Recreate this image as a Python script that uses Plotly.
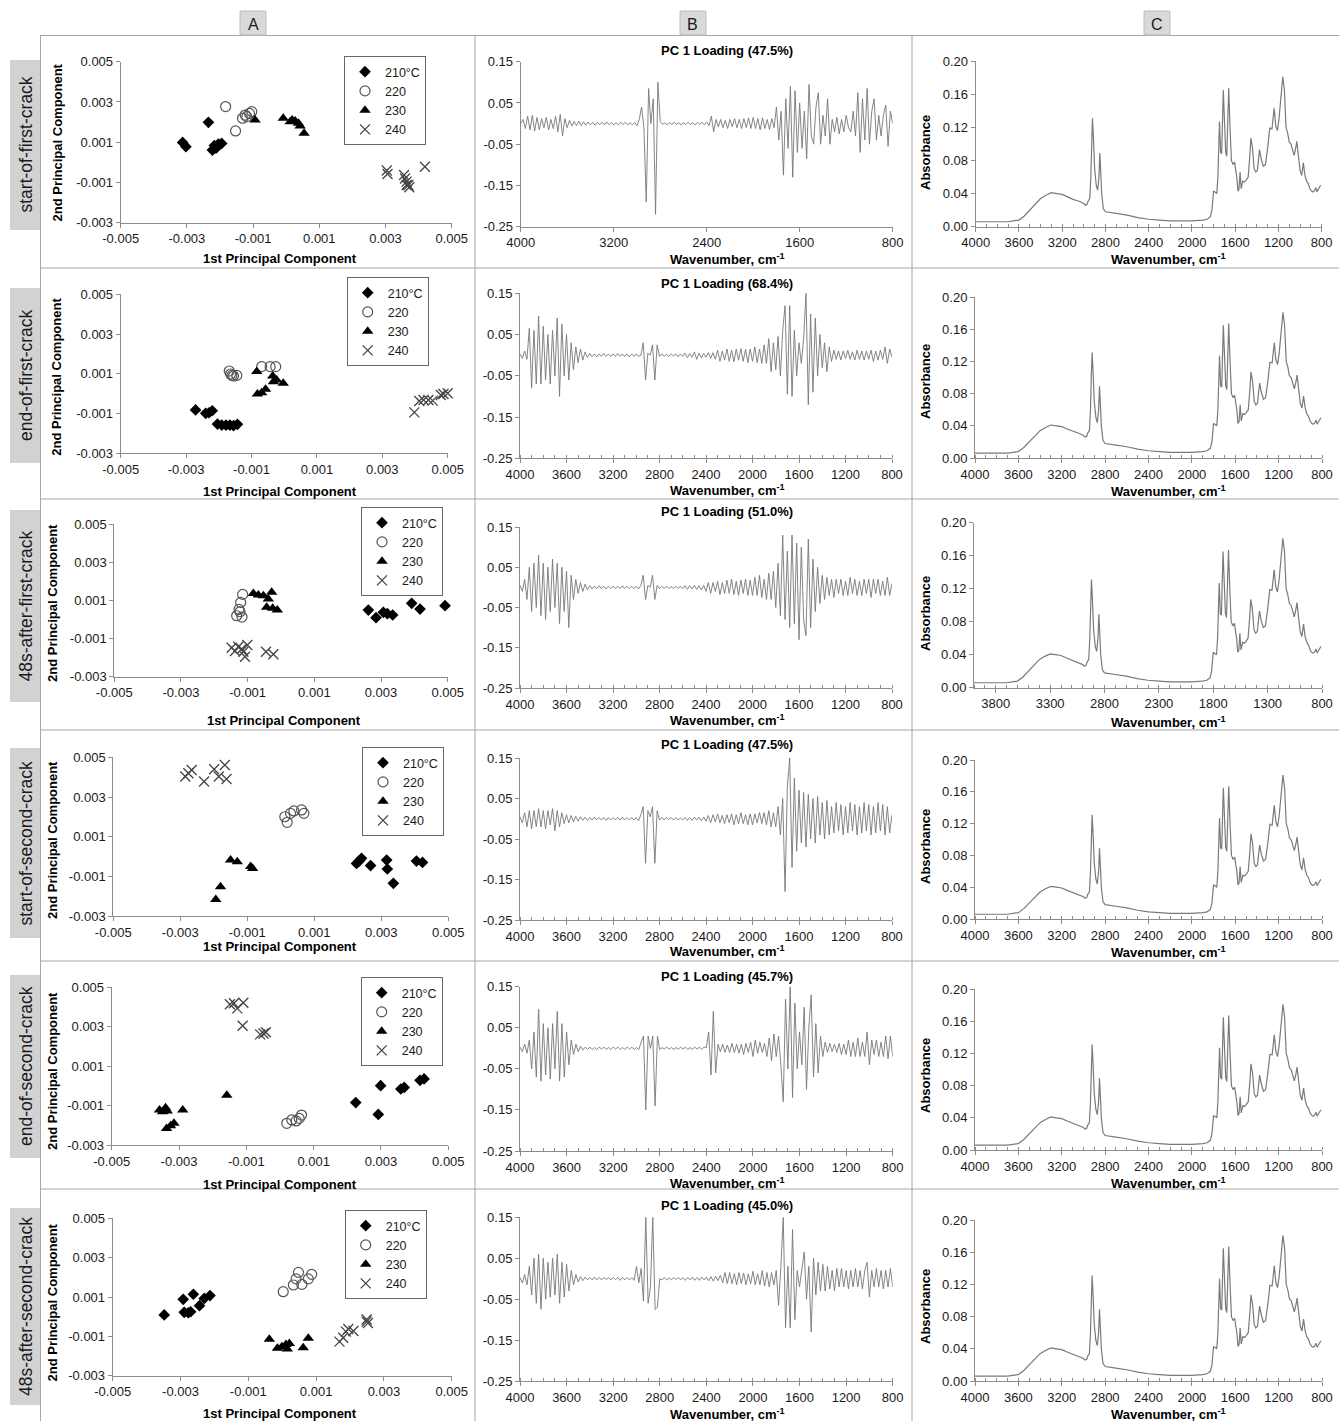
import plotly.graph_objects as go

W, H = 1339, 1421
FONT = "Liberation Sans, Arial, sans-serif"

# ---------------- DATA ----------------
row_names = ["start-of-first-crack", "end-of-first-crack", "48s-after-first-crack",
             "start-of-second-crack", "end-of-second-crack", "48s-after-second-crack"]
loading_pct = ["47.5%", "68.4%", "51.0%", "47.5%", "45.7%", "45.0%"]
temp_labels = ["210°C", "220", "230", "240"]
column_letters = ["A", "B", "C"]

pc_ticks = [-0.005, -0.003, -0.001, 0.001, 0.003, 0.005]
pc_tick_labels = ["-0.005", "-0.003", "-0.001", "0.001", "0.003", "0.005"]
pc2_ticks = [-0.003, -0.001, 0.001, 0.003, 0.005]
pc2_tick_labels = ["-0.003", "-0.001", "0.001", "0.003", "0.005"]
load_ticks = [-0.25, -0.15, -0.05, 0.05, 0.15]
load_tick_labels = ["-0.25", "-0.15", "-0.05", "0.05", "0.15"]

# PCA scores, row 1: start-of-first-crack
r1_210_x = [-0.00313, -0.00303, -0.00235, -0.00223, -0.00217, -0.00205, -0.00195, -0.00212]
r1_210_y = [0.00099, 0.00078, 0.00199, 0.00061, 0.00083, 0.00091, 0.00094, 0.0007]
r1_220_x = [-0.00183, -0.00153, -0.00132, -0.00119, -0.00111, -0.00104, -0.00124]
r1_220_y = [0.00277, 0.00156, 0.00219, 0.00227, 0.00243, 0.00252, 0.00235]
r1_230_x = [-0.00094, -0.00009, 0.00018, 0.00027, 0.00037, 0.00042, 0.00054, 0.00012]
r1_230_y = [0.0021, 0.00219, 0.0021, 0.00205, 0.00194, 0.0018, 0.00144, 0.00202]
r1_240_x = [0.00304, 0.00306, 0.00356, 0.00359, 0.00364, 0.00369, 0.00372, 0.00419, 0.00364]
r1_240_y = [-0.00041, -0.00058, -0.00063, -0.0008, -0.00096, -0.00113, -0.00124, -0.00022, -0.00113]

# row 2: end-of-first-crack
r2_210_x = [-0.00271, -0.0024, -0.0022, -0.0023, -0.00204, -0.00191, -0.00178, -0.00166, -0.00155, -0.00143]
r2_210_y = [-0.00082, -0.00099, -0.00086, -0.00096, -0.00153, -0.00158, -0.00158, -0.00158, -0.00161, -0.00154]
r2_220_x = [-0.00168, -0.00164, -0.00155, -0.00145, -0.0016, -0.00069, -0.00043, -0.00026]
r2_220_y = [0.00114, 0.00099, 0.00089, 0.00092, 0.00092, 0.00136, 0.00136, 0.00136]
r2_230_x = [-0.00084, -0.00082, -0.00069, -0.00057, -0.00035, -0.00023, -0.00003, -0.00033]
r2_230_y = [0.00111, -0.00002, 0.00005, 0.00022, 0.00089, 0.00069, 0.00052, 0.0006]
r2_240_x = [0.00398, 0.00413, 0.00426, 0.00441, 0.00454, 0.00479, 0.005, 0.00487]
r2_240_y = [-0.00094, -0.00037, -0.00032, -0.00032, -0.00035, -0.00007, 0.00002, -0.00002]

# row 3: 48s-after-first-crack
r3_210_x = [0.00262, 0.00285, 0.00307, 0.00319, 0.00335, 0.00392, 0.00417, 0.00492]
r3_210_y = [0.0005, 0.0001, 0.00038, 0.00031, 0.00024, 0.00085, 0.00055, 0.00073]
r3_220_x = [-0.00115, -0.00121, -0.00126, -0.00133, -0.00117, -0.00123]
r3_220_y = [0.00132, 0.0009, 0.00053, 0.0002, 0.00013, 0.00041]
r3_230_x = [-0.00083, -0.00068, -0.00053, -0.00028, -0.00043, -0.00025, -0.00011, -0.00038]
r3_230_y = [0.00137, 0.00129, 0.00125, 0.00143, 0.00064, 0.00059, 0.0005, 0.00108]
r3_240_x = [-0.00148, -0.00138, -0.00128, -0.00113, -0.00101, -0.00108, -0.00045, -0.00023, -0.00118]
r3_240_y = [-0.00148, -0.00165, -0.00143, -0.00169, -0.00134, -0.00195, -0.00169, -0.00182, -0.00155]

# row 4: start-of-second-crack
r4_210_x = [0.00226, 0.00234, 0.00241, 0.00268, 0.00316, 0.00318, 0.00336, 0.00405, 0.00423]
r4_210_y = [-0.00034, -0.00022, -0.00008, -0.00045, -0.00017, -0.00062, -0.00134, -0.00022, -0.00029]
r4_220_x = [0.00012, 0.00019, 0.00029, 0.00039, 0.00062, 0.00069]
r4_220_y = [0.00201, 0.00173, 0.00218, 0.0023, 0.00235, 0.00218]
r4_230_x = [-0.00194, -0.0018, -0.0015, -0.0013, -0.0009, -0.00084]
r4_230_y = [-0.00215, -0.00151, -0.00017, -0.00025, -0.0005, -0.00059]
r4_240_x = [-0.00285, -0.00276, -0.00266, -0.00229, -0.00199, -0.00185, -0.00167, -0.00162]
r4_240_y = [0.00403, 0.0042, 0.00436, 0.00378, 0.0044, 0.00403, 0.00461, 0.00391]

# row 5: end-of-second-crack
r5_210_x = [0.00225, 0.00292, 0.00299, 0.00359, 0.00369, 0.00416, 0.00428]
r5_210_y = [-0.00085, -0.00145, 0.00001, -0.00016, -0.00008, 0.00028, 0.00035]
r5_220_x = [0.0002, 0.00035, 0.00048, 0.00057, 0.00064]
r5_220_y = [-0.0019, -0.00173, -0.00178, -0.00165, -0.00148]
r5_230_x = [-0.00358, -0.00349, -0.0034, -0.00335, -0.00337, -0.00325, -0.00315, -0.00289, -0.00158]
r5_230_y = [-0.00123, -0.00131, -0.00111, -0.00128, -0.00216, -0.00202, -0.0019, -0.00123, -0.00047]
r5_240_x = [-0.00149, -0.00137, -0.00127, -0.00109, -0.00111, -0.00059, -0.00049, -0.00042]
r5_240_y = [0.00414, 0.00419, 0.00393, 0.00422, 0.00305, 0.00261, 0.00266, 0.00272]

# row 6: 48s-after-second-crack
r6_210_x = [-0.00348, -0.00292, -0.00289, -0.00277, -0.0027, -0.00262, -0.00244, -0.0023, -0.00213]
r6_210_y = [0.00009, 0.00088, 0.00022, 0.0002, 0.00025, 0.00114, 0.00056, 0.00093, 0.00107]
r6_220_x = [0.00003, 0.00033, 0.00048, 0.00041, 0.00058, 0.00077, 0.00087]
r6_220_y = [0.00127, 0.00161, 0.00225, 0.00192, 0.00164, 0.00192, 0.00215]
r6_230_x = [-0.00038, -0.00014, -0.00001, 0.00011, 0.00015, 0.00021, 0.00062, 0.00077]
r6_230_y = [-0.00115, -0.00161, -0.00153, -0.00141, -0.00164, -0.00136, -0.00158, -0.0011]
r6_240_x = [0.00169, 0.0018, 0.00188, 0.00195, 0.0021, 0.00249, 0.00253, 0.00249]
r6_240_y = [-0.00127, -0.00107, -0.00076, -0.00063, -0.00073, -0.00025, -0.00032, -0.00014]

# PC1 loadings, sampled every 20 cm-1 from 4000 down to 800 (10 values per line)
loading_wavenumber = list(range(4000, 799, -20))

load1 = [
    0.0, 0.01, -0.012, 0.018, -0.015, 0.02, -0.018, 0.015, -0.015, 0.012,
    -0.01, 0.015, -0.015, 0.01, -0.012, 0.018, -0.02, 0.022, -0.03, 0.012,
    -0.01, 0.008, -0.006, 0.005, -0.005, 0.006, -0.005, 0.004, -0.004, 0.004,
    -0.003, 0.003, -0.004, 0.003, -0.003, 0.003, -0.003, 0.004, -0.003, 0.003,
    -0.003, 0.002, -0.003, 0.003, -0.002, 0.003, -0.003, 0.002, -0.003, 0.003,
    -0.005, 0.01, 0.04, -0.01, -0.19, 0.085, 0.0, 0.06, -0.22, 0.1,
    0.005, -0.002, 0.002, -0.003, 0.002, -0.002, 0.003, -0.002, 0.002, -0.003,
    0.002, -0.002, 0.003, -0.002, 0.002, -0.003, 0.003, -0.002, 0.003, -0.003,
    0.004, -0.005, 0.018, -0.02, 0.01, -0.008, 0.01, -0.01, 0.008, -0.012,
    0.01, -0.008, 0.012, -0.01, 0.01, -0.012, 0.012, -0.01, 0.014, -0.012,
    0.015, -0.012, 0.012, -0.015, 0.014, -0.012, 0.01, -0.014, 0.012, -0.01,
    0.04, -0.04, 0.03, -0.125, 0.06, -0.06, 0.09, -0.13, 0.08, -0.07,
    0.05, -0.06, 0.03, -0.085, 0.095, -0.03, -0.05, 0.04, 0.075, -0.05,
    0.02, -0.03, 0.06, -0.05, 0.01, -0.02, 0.015, -0.025, 0.01, -0.02,
    0.02, -0.01, -0.02, 0.03, -0.03, 0.075, -0.07, 0.06, -0.04, 0.085,
    -0.05, 0.03, 0.06, -0.04, 0.02, -0.03, 0.02, 0.045, -0.055, 0.03,
    0.0,
]
load2 = [
    0.003, -0.008, 0.01, -0.01, 0.065, -0.08, 0.06, -0.07, 0.095, -0.07,
    0.07, -0.06, 0.05, -0.07, 0.06, -0.05, 0.09, -0.1, 0.075, -0.05,
    0.05, -0.06, 0.03, -0.035, 0.02, -0.018, 0.015, -0.012, 0.008, -0.006,
    0.004, -0.004, 0.003, -0.004, 0.003, -0.003, 0.004, -0.003, 0.003, -0.003,
    0.003, -0.003, 0.004, -0.003, 0.003, -0.003, 0.003, -0.004, 0.003, -0.003,
    0.003, -0.003, 0.0, 0.03, -0.06, 0.005, 0.0, 0.025, -0.06, 0.025,
    -0.003, 0.003, -0.003, 0.002, -0.003, 0.003, -0.002, 0.003, -0.004, 0.003,
    -0.003, 0.005, -0.006, 0.004, -0.005, 0.008, -0.01, 0.005, -0.006, 0.004,
    -0.005, 0.006, -0.008, 0.006, -0.01, 0.012, -0.015, 0.01, -0.012, 0.015,
    -0.015, 0.012, -0.016, 0.015, -0.012, 0.016, -0.015, 0.014, -0.018, 0.015,
    -0.015, 0.02, -0.018, 0.015, -0.02, 0.025, -0.02, 0.04, -0.04, 0.03,
    -0.035, 0.045, -0.05, 0.06, 0.12, -0.095, 0.12, -0.1, 0.06, -0.05,
    0.03, -0.02, 0.04, 0.15, -0.12, 0.1, -0.09, 0.09, -0.05, 0.05,
    -0.03, 0.03, -0.04, 0.02, -0.015, 0.012, -0.01, 0.01, -0.012, 0.01,
    -0.008, 0.012, -0.01, 0.008, -0.012, 0.012, -0.01, 0.01, -0.012, 0.01,
    -0.01, 0.012, -0.015, 0.01, -0.012, 0.012, -0.01, 0.02, -0.02, 0.015,
    -0.005,
]
load3 = [
    0.005, -0.01, 0.02, -0.03, 0.05, -0.06, 0.06, -0.05, 0.08, -0.07,
    0.06, -0.08, 0.05, -0.06, 0.07, -0.05, 0.06, -0.09, 0.05, -0.06,
    0.04, -0.1, 0.03, -0.03, 0.02, -0.015, 0.012, -0.01, 0.008, -0.006,
    0.004, -0.004, 0.003, -0.003, 0.004, -0.003, 0.003, -0.004, 0.003, -0.003,
    0.003, -0.003, 0.003, -0.003, 0.004, -0.003, 0.003, -0.003, 0.003, -0.003,
    0.003, -0.004, 0.005, 0.03, -0.03, 0.005, 0.0, 0.03, -0.03, 0.005,
    -0.003, 0.003, -0.003, 0.003, -0.003, 0.002, -0.003, 0.003, -0.003, 0.003,
    -0.003, 0.004, -0.005, 0.004, -0.004, 0.005, -0.005, 0.004, -0.006, 0.005,
    -0.01, 0.012, -0.015, 0.012, -0.01, 0.015, -0.018, 0.012, -0.015, 0.018,
    -0.015, 0.02, -0.018, 0.015, -0.02, 0.018, -0.015, 0.02, -0.02, 0.018,
    -0.02, 0.025, -0.02, 0.03, -0.025, 0.02, -0.03, 0.035, -0.03, 0.04,
    -0.05, 0.06, -0.07, 0.13, -0.08, 0.09, -0.1, 0.13, -0.09, 0.11,
    -0.13, 0.1, -0.08, -0.12, 0.12, -0.1, 0.07, -0.06, 0.05, -0.04,
    0.03, -0.03, 0.025, -0.02, 0.02, -0.025, 0.02, -0.015, 0.02, -0.02,
    0.015, -0.02, 0.025, -0.015, 0.02, -0.02, 0.015, -0.02, 0.02, -0.015,
    0.02, -0.025, 0.02, -0.015, 0.02, -0.02, 0.015, -0.02, 0.025, -0.02,
    0.01,
]
load4 = [
    0.005, -0.01, 0.015, -0.02, 0.02, -0.025, 0.02, -0.02, 0.025, -0.02,
    0.02, -0.025, 0.02, -0.015, 0.025, -0.03, 0.02, -0.02, 0.015, -0.012,
    0.01, -0.01, 0.008, -0.008, 0.006, -0.006, 0.005, -0.004, 0.004, -0.004,
    0.003, -0.003, 0.004, -0.003, 0.003, -0.003, 0.003, -0.004, 0.003, -0.003,
    0.003, -0.003, 0.003, -0.003, 0.004, -0.003, 0.003, -0.003, 0.003, -0.003,
    0.003, -0.005, 0.01, 0.03, -0.11, 0.02, 0.005, 0.03, -0.11, 0.02,
    -0.003, 0.003, -0.003, 0.003, -0.002, 0.003, -0.003, 0.003, -0.003, 0.002,
    -0.003, 0.003, -0.004, 0.003, -0.004, 0.004, -0.003, 0.004, -0.005, 0.004,
    -0.006, 0.008, -0.01, 0.01, -0.008, 0.012, -0.01, 0.008, -0.012, 0.01,
    -0.01, 0.012, -0.015, 0.01, -0.012, 0.015, -0.012, 0.01, -0.015, 0.012,
    -0.015, 0.012, -0.01, 0.015, -0.012, 0.015, -0.015, 0.02, -0.02, 0.015,
    -0.02, 0.03, -0.04, 0.05, -0.18, 0.08, 0.15, -0.12, 0.1, -0.08,
    0.07, -0.06, 0.065, -0.07, 0.06, -0.05, 0.05, -0.06, 0.055, -0.04,
    0.04, -0.05, 0.045, -0.04, 0.03, -0.035, 0.04, -0.03, 0.035, -0.04,
    0.03, -0.035, 0.04, -0.03, 0.035, -0.04, 0.03, -0.035, 0.04, -0.03,
    0.035, -0.04, 0.03, -0.035, 0.04, -0.03, 0.035, -0.04, 0.03, -0.035,
    0.01,
]
load5 = [
    0.003, -0.008, 0.01, -0.012, 0.02, -0.05, 0.04, -0.07, 0.095, -0.08,
    0.06, -0.065, 0.05, -0.075, 0.06, -0.05, 0.09, -0.08, 0.06, -0.07,
    0.04, -0.04, 0.02, -0.015, 0.01, -0.008, 0.005, -0.004, 0.003, -0.003,
    0.003, -0.003, 0.002, -0.003, 0.003, -0.002, 0.003, -0.003, 0.002, -0.003,
    0.003, -0.002, 0.003, -0.003, 0.002, -0.003, 0.003, -0.002, 0.003, -0.003,
    0.002, -0.003, 0.015, 0.03, -0.15, 0.03, 0.0, 0.03, -0.14, 0.03,
    -0.003, 0.002, -0.002, 0.003, -0.002, 0.002, -0.003, 0.002, -0.002, 0.003,
    -0.002, 0.003, -0.003, 0.002, -0.003, 0.003, -0.002, 0.003, -0.003, 0.003,
    0.002, 0.04, -0.065, 0.09, -0.06, 0.01, -0.008, 0.01, -0.01, 0.008,
    -0.01, 0.012, -0.01, 0.01, -0.012, 0.01, -0.015, 0.012, -0.01, 0.015,
    -0.02, 0.02, -0.012, 0.015, -0.01, 0.012, -0.02, 0.025, -0.03, 0.035,
    -0.02, 0.03, -0.04, -0.13, 0.12, -0.05, 0.15, -0.12, 0.11, -0.05,
    0.04, -0.04, 0.1, -0.1, 0.05, 0.13, -0.07, 0.06, -0.06, 0.03,
    -0.02, 0.015, -0.01, 0.012, -0.008, 0.01, -0.01, 0.012, -0.015, 0.01,
    -0.015, 0.02, -0.02, 0.015, -0.02, 0.025, -0.02, 0.015, -0.02, 0.04,
    -0.04, 0.02, -0.015, 0.02, -0.02, 0.015, -0.02, 0.03, -0.025, 0.03,
    -0.02,
]
load6 = [
    0.003, -0.01, 0.01, -0.015, 0.03, -0.04, 0.05, -0.06, 0.06, -0.075,
    0.05, -0.05, 0.04, -0.045, 0.05, -0.04, 0.06, -0.06, 0.04, -0.045,
    0.035, -0.03, 0.02, -0.015, 0.01, -0.008, 0.005, -0.005, 0.004, -0.003,
    0.003, -0.003, 0.004, -0.003, 0.003, -0.003, 0.003, -0.002, 0.003, -0.003,
    0.003, -0.003, 0.003, -0.004, 0.003, -0.003, 0.003, -0.003, 0.003, -0.004,
    0.03, -0.01, 0.025, -0.055, 0.15, -0.06, -0.02, 0.15, -0.075, -0.07,
    0.0, -0.003, 0.003, -0.003, 0.002, -0.003, 0.003, -0.002, 0.003, -0.003,
    0.003, -0.004, 0.003, -0.003, 0.004, -0.004, 0.003, -0.004, 0.004, -0.003,
    0.004, -0.005, 0.005, -0.006, 0.006, -0.005, 0.008, -0.01, 0.015, -0.012,
    0.015, -0.012, 0.012, -0.015, 0.015, -0.012, 0.014, -0.015, 0.012, -0.012,
    0.018, -0.015, 0.012, -0.015, 0.02, -0.018, 0.015, -0.02, 0.015, -0.015,
    0.02, -0.065, 0.03, 0.15, -0.12, 0.03, -0.12, 0.12, -0.1, 0.02,
    -0.02, 0.03, 0.065, -0.05, 0.03, -0.13, 0.05, -0.04, 0.04, -0.03,
    0.035, -0.03, 0.03, -0.025, 0.02, -0.03, 0.025, -0.02, 0.025, -0.02,
    0.02, -0.025, 0.02, -0.02, 0.025, -0.02, 0.02, -0.025, 0.02, 0.04,
    -0.045, 0.02, -0.02, 0.025, -0.02, 0.02, -0.025, 0.02, -0.02, 0.025,
    -0.02,
]

# Average FTIR absorbance spectrum (column C)
spec_wavenumber = [4000, 3900, 3800, 3700, 3650, 3600, 3550, 3500, 3450, 3400, 3350, 3300, 3250, 3200,
                   3150, 3100, 3050, 3000, 2985, 2970, 2960, 2945, 2935, 2928, 2920, 2912, 2900, 2885,
                   2872, 2860, 2852, 2845, 2835, 2820, 2800, 2700, 2600, 2500, 2400, 2300, 2200, 2100,
                   2000, 1900, 1860, 1830, 1815, 1800, 1785, 1770, 1760, 1745, 1735, 1725, 1710, 1698,
                   1688, 1678, 1660, 1648, 1635, 1620, 1605, 1595, 1585, 1575, 1565, 1555, 1545, 1530,
                   1515, 1500, 1480, 1465, 1455, 1440, 1425, 1410, 1395, 1375, 1360, 1340, 1320, 1300,
                   1280, 1260, 1240, 1225, 1210, 1195, 1175, 1160, 1145, 1130, 1115, 1100, 1085, 1070,
                   1055, 1040, 1030, 1015, 1000, 985, 970, 955, 940, 925, 910, 895, 880, 865, 855, 845,
                   835, 820, 810]
spec_absorbance = [0.006, 0.006, 0.006, 0.006, 0.007, 0.008, 0.013, 0.02, 0.028, 0.034, 0.038, 0.041, 0.040, 0.039,
                   0.036, 0.033, 0.031, 0.028, 0.026, 0.027, 0.031, 0.034, 0.06, 0.1, 0.131, 0.11, 0.07, 0.05,
                   0.044, 0.06, 0.089, 0.07, 0.04, 0.022, 0.018, 0.016, 0.014, 0.011, 0.009, 0.008, 0.007, 0.007,
                   0.007, 0.008, 0.009, 0.012, 0.02, 0.043, 0.041, 0.04, 0.06, 0.127, 0.09, 0.088, 0.165, 0.12,
                   0.09, 0.085, 0.167, 0.12, 0.08, 0.075, 0.078, 0.068, 0.06, 0.043, 0.045, 0.066, 0.046, 0.055,
                   0.054, 0.056, 0.06, 0.085, 0.107, 0.095, 0.07, 0.066, 0.068, 0.093, 0.082, 0.073, 0.075, 0.095,
                   0.119, 0.118, 0.143, 0.122, 0.116, 0.13, 0.16, 0.181, 0.165, 0.12, 0.113, 0.102, 0.1, 0.092,
                   0.086, 0.095, 0.103, 0.085, 0.068, 0.062, 0.077, 0.062, 0.055, 0.052, 0.046, 0.043, 0.042, 0.044, 0.047, 0.042,
                   0.044, 0.048, 0.05]

scores = [
    [(r1_210_x, r1_210_y), (r1_220_x, r1_220_y), (r1_230_x, r1_230_y), (r1_240_x, r1_240_y)],
    [(r2_210_x, r2_210_y), (r2_220_x, r2_220_y), (r2_230_x, r2_230_y), (r2_240_x, r2_240_y)],
    [(r3_210_x, r3_210_y), (r3_220_x, r3_220_y), (r3_230_x, r3_230_y), (r3_240_x, r3_240_y)],
    [(r4_210_x, r4_210_y), (r4_220_x, r4_220_y), (r4_230_x, r4_230_y), (r4_240_x, r4_240_y)],
    [(r5_210_x, r5_210_y), (r5_220_x, r5_220_y), (r5_230_x, r5_230_y), (r5_240_x, r5_240_y)],
    [(r6_210_x, r6_210_y), (r6_220_x, r6_220_y), (r6_230_x, r6_230_y), (r6_240_x, r6_240_y)],
]
loadings = [load1, load2, load3, load4, load5, load6]

# ---------------- LAYOUT (window pixel geometry) ----------------
A_box = [(120.7, 451.7, 61.7, 222.7), (120.7, 447.7, 294.3, 453.3), (114.3, 447.7, 524.3, 676.7),
         (113.3, 448.3, 757.3, 916.3), (111.7, 448.3, 987.3, 1145.0), (112.7, 451.7, 1218.3, 1375.7)]
B_box = [(520.7, 892.7, 61.7, 226.7), (520.0, 892.0, 293.3, 458.3), (520.0, 892.0, 527.0, 688.0),
         (520.0, 892.0, 758.0, 920.0), (520.0, 892.7, 986.7, 1151.0), (520.0, 892.7, 1217.3, 1381.0)]
C_box = [(975.7, 1321.7, 61.0, 226.7), (975.0, 1322.0, 297.0, 458.0), (974.0, 1322.0, 522.7, 687.7),
         (975.0, 1322.0, 760.0, 919.0), (975.0, 1322.0, 989.0, 1150.0), (975.0, 1322.0, 1220.0, 1381.0)]
legend_pos = [(344, 56), (346.7, 277), (361, 507), (362, 747), (360.7, 977), (344.7, 1210)]
A_xtitle_y = [258, 491, 720, 947, 1184, 1413]
B_xtitle_y = [259, 490, 720, 951, 1183, 1414]
C_xtitle_y = [259, 491, 722, 952, 1183, 1414]
A_ytitle = [(57, 142.5), (57, 376.7), (52, 603), (52, 840), (52, 1071), (52, 1302.5)]
C_ytitle_y = [152, 381, 613, 846, 1075, 1306]
B_title_y = [50, 283, 512, 744, 976, 1205]
row_box = [(60, 230), (288, 463), (510, 702), (748, 938), (975, 1158), (1208, 1405)]
h_lines = [268, 499, 730, 961, 1189]
v_lines = [475, 912]
header_x = [253, 693, 1157]


def px_x(v):
    return v / W


def px_y(v):
    return 1 - v / H


marker_styles = [
    dict(symbol="diamond", size=9, color="black"),
    dict(symbol="circle-open", size=10, color="#555555", line=dict(width=1.2, color="#555555")),
    dict(symbol="triangle-up", size=10, color="black"),
    dict(symbol="x-thin-open", size=10, color="#444444", line=dict(width=1.3, color="#444444")),
]

AXIS_COLOR = "#8c8c8c"
TICK_FONT = dict(family=FONT, size=13, color="#1a1a1a")
base_axis = dict(showline=True, linecolor=AXIS_COLOR, linewidth=1, showgrid=False, zeroline=False,
                 ticks="outside", ticklen=4, tickcolor=AXIS_COLOR, tickfont=TICK_FONT, fixedrange=True,
                 automargin=False)

fig = go.Figure()
layout = {}
annotations = []
shapes = []

for r in range(6):
    legend_ref = "legend" if r == 0 else f"legend{r + 1}"
    na, nb, nc = 3 * r + 1, 3 * r + 2, 3 * r + 3
    ax_names = []
    for n in (na, nb, nc):
        ax_names.append(("x" if n == 1 else f"x{n}", "y" if n == 1 else f"y{n}",
                         "xaxis" if n == 1 else f"xaxis{n}", "yaxis" if n == 1 else f"yaxis{n}"))

    # ----- column A: PCA scores -----
    xr, yr, xk, yk = ax_names[0]
    for t in range(4):
        sx, sy = scores[r][t]
        fig.add_trace(go.Scatter(x=sx, y=sy, mode="markers", name=temp_labels[t], marker=marker_styles[t],
                                 xaxis=xr, yaxis=yr, legend=legend_ref, cliponaxis=False, showlegend=True))
    x0, x1, y0, y1 = A_box[r]
    layout[xk] = dict(base_axis, domain=[px_x(x0), px_x(x1)], range=[-0.005, 0.005], anchor=yr,
                      tickvals=pc_ticks, ticktext=pc_tick_labels)
    layout[yk] = dict(base_axis, domain=[px_y(y1), px_y(y0)], range=[-0.003, 0.005], anchor=xr,
                      tickvals=pc2_ticks, ticktext=pc2_tick_labels)
    lx, ly = legend_pos[r]
    layout[legend_ref] = dict(x=px_x(lx), y=px_y(ly), xanchor="left", yanchor="top", bgcolor="white",
                              bordercolor="#666666", borderwidth=1, tracegroupgap=0,
                              font=dict(family=FONT, size=12.5, color="#1a1a1a"), traceorder="normal")
    annotations.append(dict(text="<b>1st Principal Component</b>", x=px_x(284 if r == 2 else 280),
                            y=px_y(A_xtitle_y[r]), xref="paper", yref="paper", showarrow=False,
                            xanchor="center", yanchor="middle", font=dict(family=FONT, size=13, color="black")))
    annotations.append(dict(text="<b>2nd Principal Component</b>", x=px_x(A_ytitle[r][0]),
                            y=px_y(A_ytitle[r][1]), xref="paper", yref="paper", showarrow=False, textangle=-90,
                            xanchor="center", yanchor="middle", font=dict(family=FONT, size=13, color="black")))

    # ----- column B: PC1 loadings -----
    xr, yr, xk, yk = ax_names[1]
    vals = loadings[r]
    fig.add_trace(go.Scatter(x=loading_wavenumber[:len(vals)], y=vals, mode="lines",
                             line=dict(color="#777777", width=0.9), xaxis=xr, yaxis=yr, showlegend=False))
    x0, x1, y0, y1 = B_box[r]
    bx = dict(base_axis, domain=[px_x(x0), px_x(x1)], range=[4000, 800], anchor=yr,
              tick0=800, dtick=800 if r == 0 else 400)
    if r > 0:
        bx["minor"] = dict(dtick=100, ticks="inside", ticklen=3, tickcolor=AXIS_COLOR)
    layout[xk] = bx
    layout[yk] = dict(base_axis, domain=[px_y(y1), px_y(y0)], range=[-0.25, 0.15], anchor=xr,
                      tickvals=load_ticks, ticktext=load_tick_labels)
    annotations.append(dict(text=f"<b>PC 1 Loading ({loading_pct[r]})</b>", x=px_x(727), y=px_y(B_title_y[r]),
                            xref="paper", yref="paper", showarrow=False, xanchor="center", yanchor="middle",
                            font=dict(family=FONT, size=13, color="black")))
    annotations.append(dict(text="<b>Wavenumber, cm<sup>-1</sup></b>", x=px_x(727), y=px_y(B_xtitle_y[r]),
                            xref="paper", yref="paper", showarrow=False, xanchor="center", yanchor="middle",
                            font=dict(family=FONT, size=13, color="black")))

    # ----- column C: absorbance spectrum -----
    xr, yr, xk, yk = ax_names[2]
    fig.add_trace(go.Scatter(x=spec_wavenumber, y=spec_absorbance, mode="lines",
                             line=dict(color="#7a7a7a", width=1.2), xaxis=xr, yaxis=yr, showlegend=False))
    x0, x1, y0, y1 = C_box[r]
    layout[xk] = dict(base_axis, domain=[px_x(x0), px_x(x1)], range=[4000, 800], anchor=yr,
                      tick0=800, dtick=500 if r == 2 else 400,
                      minor=dict(dtick=100, ticks="inside", ticklen=3, tickcolor=AXIS_COLOR))
    layout[yk] = dict(base_axis, domain=[px_y(y1), px_y(y0)], range=[0, 0.2], anchor=xr,
                      dtick=0.04, tick0=0, tickformat=".2f")
    annotations.append(dict(text="<b>Wavenumber, cm<sup>-1</sup></b>", x=px_x(1168), y=px_y(C_xtitle_y[r]),
                            xref="paper", yref="paper", showarrow=False, xanchor="center", yanchor="middle",
                            font=dict(family=FONT, size=13, color="black")))
    annotations.append(dict(text="<b>Absorbance</b>", x=px_x(925), y=px_y(C_ytitle_y[r]),
                            xref="paper", yref="paper", showarrow=False, textangle=-90,
                            xanchor="center", yanchor="middle", font=dict(family=FONT, size=13, color="black")))

    # ----- row label -----
    rb0, rb1 = row_box[r]
    shapes.append(dict(type="rect", xref="paper", yref="paper", x0=px_x(10), x1=px_x(40),
                       y0=px_y(rb1), y1=px_y(rb0), fillcolor="#d2d2d2", line=dict(width=0)))
    annotations.append(dict(text=row_names[r], x=px_x(25.5), y=px_y((rb0 + rb1) / 2), xref="paper", yref="paper",
                            showarrow=False, textangle=-90, xanchor="center", yanchor="middle",
                            font=dict(family=FONT, size=17.5, color="#1a1a1a")))

# grid lines between panels
GRID = "#a6a6a6"
shapes.append(dict(type="line", xref="paper", yref="paper", x0=px_x(40), x1=px_x(1339), y0=px_y(35.5), y1=px_y(35.5),
                   line=dict(color=GRID, width=1)))
shapes.append(dict(type="line", xref="paper", yref="paper", x0=px_x(40.5), x1=px_x(40.5), y0=px_y(35), y1=px_y(1421),
                   line=dict(color=GRID, width=1)))
for hy in h_lines:
    shapes.append(dict(type="line", xref="paper", yref="paper", x0=px_x(40), x1=px_x(1339), y0=px_y(hy), y1=px_y(hy),
                       line=dict(color=GRID, width=1)))
for vx in v_lines:
    shapes.append(dict(type="line", xref="paper", yref="paper", x0=px_x(vx), x1=px_x(vx), y0=px_y(35), y1=px_y(1421),
                       line=dict(color=GRID, width=1)))

# column headers
for i, hx in enumerate(header_x):
    shapes.append(dict(type="rect", xref="paper", yref="paper", x0=px_x(hx - 13), x1=px_x(hx + 13),
                       y0=px_y(35), y1=px_y(11), fillcolor="#d9d9d9", line=dict(color="#bdbdbd", width=1)))
    annotations.append(dict(text=column_letters[i], x=px_x(hx), y=px_y(24), xref="paper", yref="paper",
                            showarrow=False, xanchor="center", yanchor="middle",
                            font=dict(family=FONT, size=16, color="#1a1a1a")))

fig.update_layout(width=W, height=H, margin=dict(l=0, r=0, t=0, b=0, pad=0, autoexpand=False),
                  paper_bgcolor="white", plot_bgcolor="rgba(0,0,0,0)", showlegend=True,
                  font=dict(family=FONT, size=13, color="#1a1a1a"),
                  annotations=annotations, shapes=shapes, **layout)

# let the 1339x1421 figure fill the window exactly (no default 8px page margin, no scrollbars)
fig.write_html("out.html", config={"displayModeBar": False}, post_script=(
    "document.body.style.margin='0';document.body.style.overflow='hidden';"
    "document.documentElement.style.overflow='hidden';"))
